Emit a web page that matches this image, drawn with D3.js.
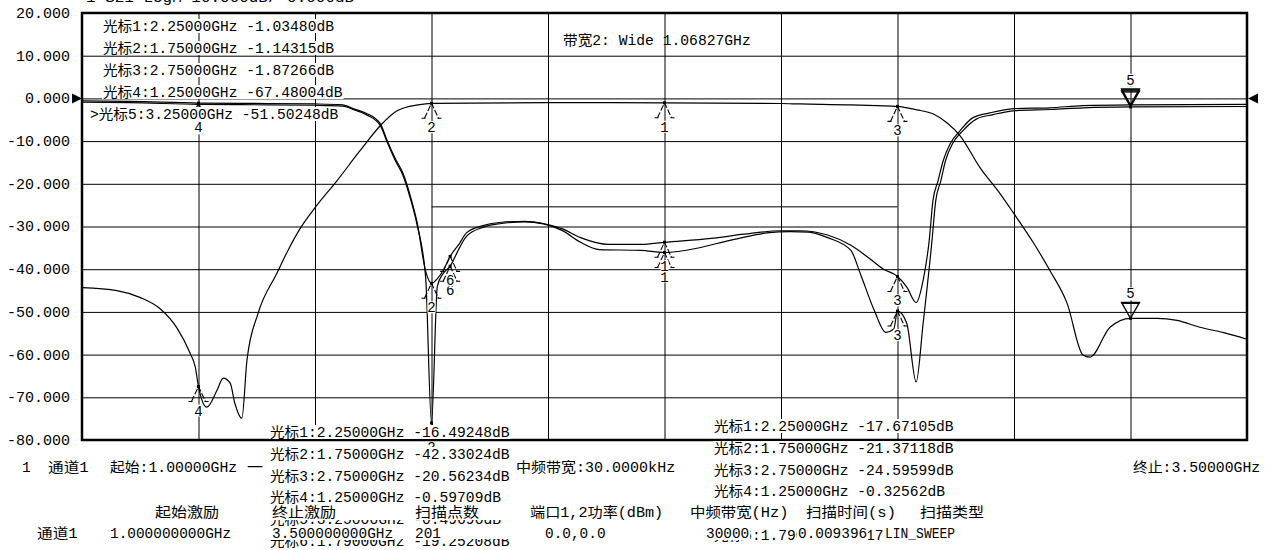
<!DOCTYPE html>
<html><head><meta charset="utf-8">
<script src="https://cdn.jsdelivr.net/npm/d3@7"></script>
<style>
body{margin:0;background:#fff}
svg{display:block}
text{font-family:"Liberation Mono","Noto Sans CJK SC",monospace;font-size:14px;fill:#000}
</style>
</head><body>
<svg id="c" width="1270" height="550"></svg>
<script>
// ---------------- data ----------------
const yTickValues = [20, 10, 0, -10, -20, -30, -40, -50, -60, -70, -80];
const xGridValues = [1.25, 1.5, 1.75, 2.0, 2.25, 2.5, 2.75, 3.0, 3.25];

// Trace A (band-pass)
const freqA = [1.00, 1.075, 1.124, 1.167, 1.204, 1.232, 1.243, 1.25, 1.268, 1.29, 1.303, 1.318, 1.328, 1.343, 1.354, 1.378, 1.418, 1.442, 1.468, 1.5, 1.547, 1.597, 1.64, 1.676, 1.721, 1.75, 2.0, 2.25, 2.5, 2.541, 2.65, 2.706, 2.75, 2.792, 2.826, 2.856, 2.884, 2.927, 2.97, 2.998, 3.041, 3.077, 3.114, 3.148, 3.163, 3.206, 3.25, 3.307, 3.35, 3.399, 3.448, 3.5];
const s21A  = [-44.3, -45.0, -46.6, -49.2, -53.8, -59.7, -62.9, -67.48004, -72.3, -68.3, -65.5, -66.7, -71.4, -74.9, -61.3, -50.3, -41.0, -35.6, -30.5, -25.6, -19.3, -12.2, -6.4, -2.9, -1.5, -1.14315, -1.0, -1.0348, -1.2, -1.3, -1.5, -1.7, -1.87266, -2.7, -3.6, -5.7, -8.7, -16.2, -22.3, -26.7, -33.7, -40.3, -48.0, -60.1, -60.6, -53.6, -51.50248, -51.5, -52.0, -53.6, -54.8, -56.4];

// Trace B1 (band-stop, upper copy)
const freqB1 = [1.0, 1.1, 1.25, 1.4, 1.5, 1.56, 1.582, 1.61, 1.64, 1.655, 1.672, 1.689, 1.705, 1.719, 1.7375, 1.75, 1.7625, 1.775, 1.79, 1.81, 1.825, 1.86, 1.9, 1.95, 1.99, 2.03, 2.07, 2.13, 2.2, 2.25, 2.35, 2.42, 2.5, 2.54, 2.6, 2.65, 2.69, 2.72, 2.75, 2.77, 2.79, 2.805, 2.818, 2.826, 2.837, 2.848, 2.863, 2.884, 2.912, 2.948, 3.0, 3.077, 3.148, 3.25, 3.5];
const s21B1  = [-0.6, -0.7, -1.1, -1.2, -1.3, -1.5, -2.4, -3.5, -5.9, -9.9, -14.0, -17.6, -23.0, -29.0, -40.5, -43.3, -42.2, -40.3, -37.0, -34.0, -31.5, -29.8, -29.0, -28.8, -29.3, -30.5, -32.6, -34.2, -34.2, -33.7, -32.8, -31.8, -31.0, -31.0, -32.0, -34.4, -37.5, -40.0, -41.7, -44.2, -47.8, -42.6, -33.3, -24.0, -19.3, -14.6, -10.6, -7.6, -4.5, -3.4, -2.4, -2.2, -1.7, -1.5, -1.4];

// Trace B2 (band-stop, lower copy)
const freqB2 = [1.0, 1.1, 1.25, 1.4, 1.5, 1.56, 1.582, 1.61, 1.64, 1.655, 1.672, 1.689, 1.705, 1.719, 1.7375, 1.75, 1.7625, 1.775, 1.79, 1.81, 1.825, 1.86, 1.9, 1.95, 1.99, 2.03, 2.07, 2.11, 2.2, 2.25, 2.3, 2.4, 2.47, 2.52, 2.56, 2.6, 2.65, 2.67, 2.7, 2.725, 2.742, 2.75, 2.77, 2.79, 2.805, 2.824, 2.832, 2.843, 2.853, 2.868, 2.89, 2.92, 2.955, 3.0, 3.08, 3.15, 3.25, 3.5];
const s21B2  = [-0.9, -1.0, -1.4, -1.5, -1.6, -1.8, -2.6, -3.8, -6.3, -10.3, -14.5, -18.1, -23.6, -29.6, -42.0, -76.0, -44.0, -41.0, -39.3, -35.0, -32.3, -30.2, -29.3, -28.9, -29.4, -30.9, -33.7, -35.4, -35.6, -36.1, -35.5, -33.0, -31.5, -31.2, -31.3, -32.6, -35.6, -41.0, -49.6, -54.8, -54.0, -49.8, -52.7, -66.4, -52.7, -33.3, -24.0, -19.3, -14.6, -10.6, -7.6, -4.8, -3.8, -2.9, -2.6, -2.2, -2.0, -1.9];

// Markers
const markerIds   = [1, 2, 3, 4, 5, 6];
const markerFreq  = [2.25, 1.75, 2.75, 1.25, 3.25, 1.79];
const markerValA  = [-1.03480, -1.14315, -1.87266, -67.48004, -51.50248, null];
const markerValB1 = [-33.7, -43.3, -41.7, -1.1, -1.5, -37.0];
const markerValB2 = [-36.1, -76.0, -49.8, -1.4, -2.0, -39.3];
const activeMarker = 5;

// Bandwidth bar
const bwStart = 1.75, bwStop = 2.75, bwLevel = -25.4;

// Texts
const headerTop = "1  S21 LogM  10.000dB/  0.000dB";
const listA = ["光标1:2.25000GHz -1.03480dB", "光标2:1.75000GHz -1.14315dB", "光标3:2.75000GHz -1.87266dB", "光标4:1.25000GHz -67.48004dB", ">光标5:3.25000GHz -51.50248dB"];
const bwText = "带宽2: Wide 1.06827GHz";
const listB1 = ["光标1:2.25000GHz -16.49248dB", "光标2:1.75000GHz -42.33024dB", "光标3:2.75000GHz -20.56234dB", "光标4:1.25000GHz -0.59709dB", "光标5:3.25000GHz -0.49690dB", "光标6:1.79000GHz -19.25208dB"];
const listB2 = ["光标1:2.25000GHz -17.67105dB", "光标2:1.75000GHz -21.37118dB", "光标3:2.75000GHz -24.59599dB", "光标4:1.25000GHz -0.32562dB", "光标5:3.25000GHz -0.28410dB", "光标6:1.79000GHz -17.59152dB"];
const chanRow = ["1", "通道1", "起始:1.00000GHz", "一", "中频带宽:30.0000kHz", "终止:3.50000GHz"];
const paramHead = ["起始激励", "终止激励", "扫描点数", "端口1,2功率(dBm)", "中频带宽(Hz)", "扫描时间(s)", "扫描类型"];
const paramVals = ["通道1", "1.000000000GHz", "3.500000000GHz", "201", "0.0,0.0", "30000", "0.009396", "LIN_SWEEP"];

// ---------------- drawing ----------------
const svg = d3.select('#c');
const L = 82, R = 1247, T = 13, B = 440;
const x = d3.scaleLinear().domain([1.0, 3.5]).range([L, R]);
const y = d3.scaleLinear().domain([-80, 20]).range([B, T]);

const ASCII_W = 8.65, CJK_W = 16;
function textLen(s) { let n = 0; for (const ch of s) n += ch.charCodeAt(0) > 0x2e80 ? CJK_W : ASCII_W; return n; }
function label(g, s, x0, yc, bg, anchor, width) {
  const len = width || textLen(s);
  let xs = anchor === 'end' ? x0 - len : anchor === 'middle' ? x0 - len / 2 : x0;
  if (bg) g.append('rect').attr('x', xs - 1).attr('y', yc - 7).attr('width', len + 2).attr('height', 14).attr('fill', '#fff');
  g.append('text').attr('x', xs).attr('y', yc + 5).attr('textLength', len)
    .attr('lengthAdjust', 'spacingAndGlyphs').text(s);
}
function band(g, x0, x1, y0, y1) {
  g.append('rect').attr('x', x0).attr('y', y0).attr('width', x1 - x0).attr('height', y1 - y0).attr('fill', '#fff');
}

// clipped header line at very top
label(svg, headerTop, 86, -3.5, false);

// grid
const gridG = svg.append('g');
gridG.append('g').attr('transform', `translate(0,${B})`)
  .call(d3.axisBottom(x).tickValues(xGridValues).tickSize(-(B - T)).tickFormat(''))
  .call(g => g.select('.domain').remove())
  .call(g => g.selectAll('line').attr('stroke', '#000').attr('stroke-width', 1));
gridG.append('g').attr('transform', `translate(${L},0)`)
  .call(d3.axisLeft(y).tickValues(yTickValues.slice(1, -1)).tickSize(-(R - L)).tickFormat(''))
  .call(g => g.select('.domain').remove())
  .call(g => g.selectAll('line').attr('stroke', '#000').attr('stroke-width', 1));

// y axis labels
svg.append('g').attr('transform', `translate(${L},0)`)
  .call(d3.axisLeft(y).tickValues(yTickValues).tickSize(0).tickPadding(12).tickFormat(d => d.toFixed(3)))
  .call(g => g.select('.domain').remove())
  .call(g => g.selectAll('text').attr('font-size', 14.5)
    .attr('textLength', function () { return this.textContent.length * 9; })
    .attr('lengthAdjust', 'spacingAndGlyphs'));

// bandwidth bar
svg.append('line').attr('x1', x(bwStart)).attr('x2', x(bwStop)).attr('y1', y(bwLevel)).attr('y2', y(bwLevel))
  .attr('stroke', '#000').attr('stroke-width', 1);

// traces
const line = d3.line().x(d => x(d[0])).y(d => y(d[1])).curve(d3.curveMonotoneX);
const traceG = svg.append('g').attr('fill', 'none').attr('stroke', '#000').attr('stroke-width', 1.2);
traceG.append('path').attr('d', line(d3.zip(freqA, s21A)));
traceG.append('path').attr('d', line(d3.zip(freqB1, s21B1)));
traceG.append('path').attr('d', line(d3.zip(freqB2, s21B2)));

// markers
const mG = svg.append('g');
function markerUp(id, f, v) {
  const xp = x(f), yp = y(v);
  const g = mG.append('g').attr('fill', 'none').attr('stroke', '#000').attr('stroke-width', 1.1);
  g.append('path').attr('d', `M${xp - 7},${yp + 15}L${xp},${yp}L${xp + 7},${yp + 15}`).attr('stroke-dasharray', '6,2');
  g.append('path').attr('d', `M${xp - 10},${yp + 15}H${xp - 6}M${xp + 6},${yp + 15}H${xp + 10}`);
  mG.append('rect').attr('x', xp - 1.5).attr('y', yp - 1.5).attr('width', 3).attr('height', 3).attr('fill', '#000');
  mG.append('rect').attr('x', xp - 4).attr('y', yp + 18).attr('width', 8).attr('height', 12).attr('fill', '#fff');
  mG.append('text').attr('x', xp).attr('y', yp + 29).attr('text-anchor', 'middle')
    .attr('font-family', 'DejaVu Sans, sans-serif').attr('font-size', 13).text(id);
}
function markerDown(id, f, v) {
  const xp = x(f), yp = y(v);
  mG.append('path').attr('d', `M${xp - 9},${yp - 16}H${xp + 9}L${xp},${yp}Z`)
    .attr('fill', 'none').attr('stroke', '#000').attr('stroke-width', 1.3);
  mG.append('line').attr('x1', xp - 9).attr('x2', xp + 9).attr('y1', yp - 15).attr('y2', yp - 15).attr('stroke', '#000').attr('stroke-width', 1.3);
  mG.append('rect').attr('x', xp - 1.5).attr('y', yp - 1.5).attr('width', 3).attr('height', 3).attr('fill', '#000');
  mG.append('rect').attr('x', xp - 5).attr('y', yp - 31).attr('width', 10).attr('height', 13).attr('fill', '#fff');
  mG.append('text').attr('x', xp).attr('y', yp - 20).attr('text-anchor', 'middle')
    .attr('font-family', 'DejaVu Sans, sans-serif').attr('font-size', 13).text(id);
}
[markerValB2, markerValB1, markerValA].forEach(vals => {
  markerIds.forEach((id, i) => {
    if (vals[i] === null) return;
    if (id === activeMarker) markerDown(id, markerFreq[i], vals[i]);
    else markerUp(id, markerFreq[i], vals[i]);
  });
});

// top-left marker list
const tG = svg.append('g');
const listAY = [26, 48, 70, 92, 114];
listA.forEach((s, i) => label(tG, s, s.startsWith('>') ? 90 : 103, listAY[i], true));
label(tG, bwText, 563, 40, false);

// reference arrows
svg.append('path').attr('d', `M72,${y(0) - 5}L82,${y(0)}L72,${y(0) + 5}Z`).attr('fill', '#000');
svg.append('path').attr('d', `M1258,${y(0) - 5}L1248,${y(0)}L1258,${y(0) + 5}Z`).attr('fill', '#000');

// border
svg.append('rect').attr('x', L).attr('y', T).attr('width', R - L).attr('height', B - T)
  .attr('fill', 'none').attr('stroke', '#000').attr('stroke-width', 2.5);

// bottom status area
const bG = svg.append('g');
const chanX = [22, 48, 110, 247, 516, 1133];
chanRow.forEach((s, i) => label(bG, s, chanX[i], 467, false));
const listB1Y = [432, 454, 476, 497, 519, 541];
listB1.forEach((s, i) => label(bG, s, 270, listB1Y[i], true));
const listB2Y = [426, 448, 470, 491, 513, 535];
listB2.forEach((s, i) => label(bG, s, 714, listB2Y[i], true));
// header row covers the hidden 5th marker lines
band(bG, 150, 520, 505, 520);
band(bG, 686, 1000, 505, 521);
band(bG, 105, 520, 526, 539);
const headX = [155, 272, 415, 530, 690, 806, 920];
paramHead.forEach((s, i) => label(bG, s, headX[i], 512, true));
const valX = [37, 110, 272, 415, 545, 706, 798, 885];
const valW = [null, null, null, null, null, null, null, 70];
paramVals.forEach((s, i) => label(bG, s, valX[i], 533, true, null, valW[i]));
</script>
</body></html>
